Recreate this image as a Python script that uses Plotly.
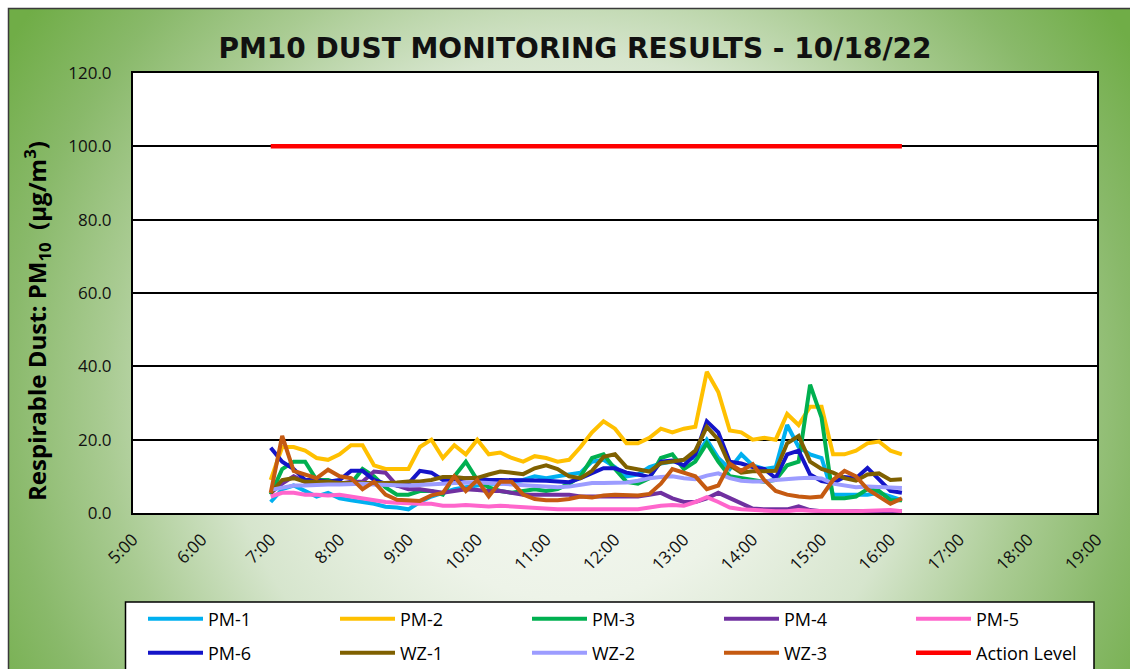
import base64
import plotly.graph_objects as go

times = ["7:00", "7:10", "7:20", "7:30", "7:40", "7:50",
         "8:00", "8:10", "8:20", "8:30", "8:40", "8:50",
         "9:00", "9:10", "9:20", "9:30", "9:40", "9:50",
         "10:00", "10:10", "10:20", "10:30", "10:40", "10:50",
         "11:00", "11:10", "11:20", "11:30", "11:40", "11:50",
         "12:00", "12:10", "12:20", "12:30", "12:40", "12:50",
         "13:00", "13:10", "13:20", "13:30", "13:40", "13:50",
         "14:00", "14:10", "14:20", "14:30", "14:40", "14:50",
         "15:00", "15:10", "15:20", "15:30", "15:40", "15:50",
         "16:00", "16:10"]

pm1 = [3, 6.5, 7.5, 6, 4.5, 5.5,
       4, 3.5, 3, 2.5, 1.7, 1.5,
       1, 3, 4.5, 5.5, 6.5, 7,
       7.5, 8, 8, 8.5, 9, 10,
       9.5, 10, 10.5, 11, 14, 14.5,
       12.5, 10, 10.5, 12.5, 13.5, 14,
       14.5, 15, 20, 15, 12, 16,
       13, 12, 12.5, 24, 18, 16,
       15, 5, 5, 5, 5, 5.5,
       4.5, 3.5]
pm2 = [9, 18, 18, 17, 15, 14.5,
       16, 18.5, 18.5, 13, 12, 12,
       12, 18, 20, 15, 18.5, 16,
       20, 16, 16.5, 15, 14, 15.5,
       15, 14, 14.5, 18, 22, 25,
       23, 19, 19, 20.5, 23, 22,
       23, 23.5, 38.5, 33, 22.5, 22,
       20, 20.5, 20, 27, 24, 29,
       29, 16, 16, 17, 19, 19.5,
       17, 16]
pm3 = [5, 12, 14, 14, 9, 9,
       8, 8, 12, 10, 7, 5,
       5, 6, 6, 5, 10, 14,
       9, 7, 6, 5.5, 6, 6.5,
       6, 6.5, 8, 10, 15, 16,
       12, 8.5, 8, 9.5, 15, 16,
       12, 14, 19, 14, 10, 9.5,
       9, 8.5, 9, 13, 14, 35,
       26, 4, 4, 4.5, 6.5, 6,
       3.5, 3.5]
pm4 = [5.5, 8, 10, 8.5, 8, 8,
       8, 8.5, 8.5, 11.3, 11, 7.5,
       6.5, 6.5, 6, 5.5, 6, 6.5,
       6.3, 6, 6, 5.5, 5, 5,
       5, 5, 5, 4.5, 4.5, 4.5,
       4.5, 4.5, 4.5, 5, 5.5, 4,
       3, 3, 4, 5.5, 4, 2.5,
       1.2, 1, 1, 1, 1.8, 0.8,
       0.5, 0.4, 0.4, 0.5, 0.5, 0.5,
       0.5, 0.5]
pm5 = [4.5, 5.5, 5.5, 5, 5, 4.8,
       5, 4.5, 4, 3.5, 3, 2.8,
       2.6, 2.5, 2.5, 2, 2, 2.2,
       2, 1.8, 2, 1.8, 1.5, 1.3,
       1.2, 1, 1, 1, 0.8, 1,
       0.8, 0.8, 1, 1.5, 2, 2.2,
       2, 3, 4.3, 3, 1.5, 1,
       0.8, 0.6, 0.5, 0.5, 0.8, 0.6,
       0.5, 0.5, 0.5, 0.5, 0.6, 0.8,
       0.8, 0.5]
pm6 = [17.8, 14, 12, 9, 9, 8.5,
       9, 11.5, 11.5, 9, 8, 7.5,
       8, 11.5, 11, 9, 9, 9.5,
       9.5, 9, 9, 9, 9, 9,
       8.8, 8.6, 8.4, 9.5, 10.8, 12.2,
       12.2, 11, 10.5, 9.8, 14, 14.3,
       13, 16, 25, 22, 14, 13.5,
       12.5, 12, 9.5, 16, 17, 10.5,
       8.7, 8.2, 9.8, 9.5, 12.3, 9,
       6, 5.5]
wz1 = [5.5, 9, 9.5, 8.5, 8.5, 8.5,
       8.2, 8.2, 8, 8, 8.2, 8.3,
       8.6, 8.6, 9, 9.8, 9.8, 9.5,
       9.6, 10.5, 11.3, 11, 10.6, 12.2,
       13, 12, 10, 9.5, 11.5, 15.3,
       16, 12.5, 11.8, 11.3, 13.6, 14,
       14.5, 17, 23.5, 20, 13, 11,
       11.4, 11.4, 11.5, 19, 21, 14,
       12, 11, 9.5, 8.8, 10.5, 10.8,
       9, 9.2]
wz2 = [6.3, 7, 7.5, 7.5, 7.7, 7.8,
       7.8, 8, 8, 7.8, 7.6, 7.6,
       7.5, 7.6, 7.8, 8, 8.2, 8.3,
       8.3, 8.2, 8, 7.6, 7.4, 7.2,
       7, 7, 7.2, 7.8, 8.2, 8.2,
       8.2, 8.3, 8.8, 9.5, 9.8, 10,
       9.5, 9.2, 10.2, 10.8, 9.5, 8.8,
       8.6, 8.6, 9, 9.3, 9.5, 9.6,
       9.4, 8, 7.5, 7, 7.2, 7,
       6.8, 6.8]
wz3 = [5.5, 21, 11.5, 10.5, 9.5, 11.8,
       10, 9.5, 6.5, 8.5, 5, 3.6,
       3.5, 3.3, 4.8, 5.5, 10, 6,
       9, 4.5, 8.5, 8.5, 5, 3.8,
       3.5, 3.5, 3.8, 4.5, 4.2, 4.8,
       5, 4.8, 4.8, 5.2, 8, 12,
       11, 10, 6.5, 7.5, 13.5, 11.5,
       13.3, 9, 6, 5, 4.5, 4.2,
       4.5, 9, 11.5, 10, 6.5, 4.5,
       2.5, 4]
action_level = [100.0] * len(times)

series_names = ["PM-1", "PM-2", "PM-3", "PM-4", "PM-5",
                "PM-6", "WZ-1", "WZ-2", "WZ-3", "Action Level"]
series_values = [pm1, pm2, pm3, pm4, pm5, pm6, wz1, wz2, wz3, action_level]
series_colors = ["#00B0F0", "#FFC000", "#00B050", "#7030A0", "#FF66CC",
                 "#1414C8", "#7F6000", "#9C9CFF", "#C55A11", "#FF0000"]

tick_hours = list(range(5, 20))
tick_labels = ["5:00", "6:00", "7:00", "8:00", "9:00", "10:00", "11:00", "12:00",
               "13:00", "14:00", "15:00", "16:00", "17:00", "18:00", "19:00"]


def to_hours(t):
    h, m = t.split(":")
    return int(h) + int(m) / 60.0


xh = [to_hours(t) for t in times]

W, H = 1130, 669
ML, MR, MT, MB = 133, 33, 73, 156
PW, PH = W - ML - MR, H - MT - MB


def px_x(p):
    return (p - ML) / PW


def px_y(p):
    return (H - MB - p) / PH


svg = f'''<svg xmlns="http://www.w3.org/2000/svg" width="{W}" height="{H}" viewBox="0 0 {W} {H}">
<defs><radialGradient id="g" gradientUnits="userSpaceOnUse" cx="570" cy="400" r="665">
<stop offset="0" stop-color="#F7FAF4"/>
<stop offset="0.3" stop-color="#EDF3E8"/>
<stop offset="0.52" stop-color="#D6E5CD"/>
<stop offset="0.7" stop-color="#A9CB92"/>
<stop offset="0.85" stop-color="#89B96A"/>
<stop offset="1" stop-color="#70AD47"/>
</radialGradient></defs>
<rect x="0" y="0" width="{W}" height="{H}" fill="#FFFFFF"/>
<rect x="8.5" y="8.5" width="{W + 20}" height="{H + 20}" fill="url(#g)" stroke="#3A3A3A" stroke-width="1.5"/>
</svg>'''
svg_uri = "data:image/svg+xml;base64," + base64.b64encode(svg.encode()).decode()

fig = go.Figure()
for i, (name, vals, col) in enumerate(zip(series_names, series_values, series_colors)):
    fig.add_trace(go.Scatter(
        x=xh, y=vals, mode="lines", name=name,
        line=dict(color=col, width=4.5 if name == "Action Level" else 4),
        legend="legend" if i < 5 else "legend2",
        hoverinfo="skip",
    ))

legend_common = dict(
    orientation="h", xanchor="left", yanchor="middle",
    bgcolor="rgba(0,0,0,0)", borderwidth=0,
    entrywidth=110, entrywidthmode="pixels",
    font=dict(family="Open Sans", size=18, color="#000000"),
    itemwidth=55, indentation=12,
)

fig.update_layout(
    width=W, height=H,
    margin=dict(l=ML, r=MR, t=MT, b=MB, autoexpand=False),
    paper_bgcolor="#FFFFFF",
    plot_bgcolor="#FFFFFF",
    title=dict(
        text="<b>PM10 DUST MONITORING RESULTS - 10/18/22</b>",
        font=dict(family="DejaVu Sans", size=28, color="#111111"),
        x=575 / W, xref="container", xanchor="center",
        y=1 - 48 / H, yref="container", yanchor="middle",
    ),
    xaxis=dict(
        range=[5, 19], tickvals=tick_hours, ticktext=tick_labels,
        tickangle=-45, showgrid=False, zeroline=False,
        showline=True, linecolor="#000000", linewidth=2, mirror=True,
        ticks="", ticklabelstandoff=8,
        tickfont=dict(family="Open Sans", size=17, color="#111111"),
    ),
    yaxis=dict(
        range=[0, 120], dtick=20, tickformat=".1f",
        showgrid=True, gridcolor="#000000", gridwidth=1.5, zeroline=False,
        showline=True, linecolor="#000000", linewidth=2, mirror=True,
        ticks="", ticklabelstandoff=16,
        tickfont=dict(family="Open Sans", size=17, color="#111111"),
    ),
    legend=dict(x=px_x(131), y=px_y(619), **legend_common),
    legend2=dict(x=px_x(131), y=px_y(653), **legend_common),
    images=[dict(
        source=svg_uri, xref="paper", yref="paper",
        x=px_x(0), y=px_y(0), sizex=W / PW, sizey=H / PH,
        xanchor="left", yanchor="top", sizing="stretch", layer="below",
    )],
    shapes=[
        dict(type="rect", xref="paper", yref="paper", x0=0, x1=1, y0=0, y1=1,
             fillcolor="#FFFFFF", line=dict(width=0), layer="below"),
        dict(type="rect", xref="paper", yref="paper",
             x0=px_x(125.5), x1=px_x(1094), y0=px_y(720), y1=px_y(602),
             fillcolor="#FFFFFF", line=dict(color="#000000", width=1.5), layer="below"),
    ],
    annotations=[dict(
        text="<b>Respirable Dust: PM<sub>10</sub>\u00a0 (µg/m<sup>3</sup>)</b>",
        xref="paper", yref="paper", x=px_x(37), y=px_y(321),
        xanchor="center", yanchor="middle", textangle=-90, showarrow=False,
        font=dict(family="Open Sans", size=24, color="#000000"),
    )],
    showlegend=True,
)

fig.write_html("out.html", config={"displayModeBar": False},
               post_script="document.body.style.margin='0px';document.body.style.padding='0px';")
